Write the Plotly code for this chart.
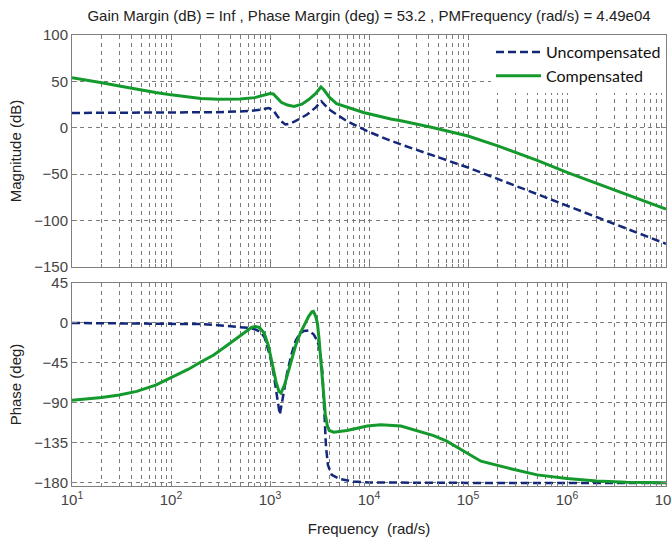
import plotly.graph_objects as go

# ---- Bode data (frequency in rad/s) ----
freq_unc_mag = [10, 30, 100, 300, 600, 800, 970, 1080, 1180, 1300, 1430, 1600, 1800, 2370, 2900,
                3300, 3550, 3970, 6000, 9600, 15300, 21000, 1e5, 1e6, 1e7]
mag_unc = [16, 16, 16.2, 16.8, 18, 19.5, 21.4, 19, 13, 7, 3.6, 4.5, 7.1, 14.3, 22,
           28.6, 25, 19.6, 7.1, -3.6, -12.5, -17.9, -42.8, -84, -125]

freq_comp_mag = [10, 15, 20, 30, 45, 70, 100, 150, 200, 300, 500, 700, 850, 1000, 1080, 1180,
                 1300, 1500, 1750, 2100, 2460, 2900, 3270, 3500, 3970, 4700, 6000, 8800, 16600,
                 21000, 44900, 1e5, 2e5, 5e5, 1e6, 2e6, 5e6, 1e7]
mag_comp = [54, 51, 48.5, 45, 41.5, 38, 35.5, 33, 31.5, 30.8, 31, 32.5, 34.5, 37, 36.5, 32,
            27.5, 24.5, 23, 25.5, 30.4, 37, 44, 41, 33, 26, 22, 16.5, 9.5,
            7.5, 0, -8.9, -19.5, -35, -48, -60, -76, -87.5]

freq_unc_ph = [10, 100, 200, 300, 450, 600, 700, 800, 880, 950, 1000, 1080, 1150, 1210, 1255,
               1310, 1400, 1490, 1650, 1815, 2000, 2200, 2450, 2770, 3000, 3120, 3250, 3380,
               3490, 3580, 3680, 3850, 4200, 5000, 7000, 1e4, 1e5, 1e7]
phase_unc = [0, -0.5, -1.3, -2.5, -4, -5.5, -7, -10, -16, -27, -37, -55, -75, -95, -103,
             -92, -72, -56, -35, -20, -12, -9, -8.5, -13, -20, -26, -38, -55,
             -86, -115, -140, -160, -171, -175.5, -178.5, -179.5, -180, -180]

freq_comp_ph = [10, 20, 30, 45, 70, 100, 150, 200, 270, 370, 540, 650, 710, 780, 870, 960,
                1050, 1150, 1230, 1290, 1400, 1620, 1820, 2030, 2250, 2460, 2650, 2740, 2880,
                3010, 3130, 3240, 3370, 3490, 3620, 3800, 3970, 4400, 6000, 9600, 13100,
                21000, 28000, 44900, 61000, 98000, 135000, 270000, 5e5, 1e6, 2e6, 4e6, 1e7]
phase_comp = [-87, -84, -81, -77, -70, -62, -52, -44, -36, -25, -11, -5, -4, -5, -11, -25,
              -45, -66, -77, -79, -70, -45, -25, -11, 0, 7.5, 12.5, 13, 8,
              0, -18, -37.5, -62, -86, -103, -116, -121, -123, -121, -116, -114.5,
              -116, -120, -126.8, -133, -146, -155.6, -164, -171, -175, -178, -179.3, -179.8]

series_names = ["Uncompensated", "Compensated"]

x_tickvals = [1e1, 1e2, 1e3, 1e4, 1e5, 1e6, 1e7]
x_ticktext = ["10<sup>1</sup>", "10<sup>2</sup>", "10<sup>3</sup>", "10<sup>4</sup>",
              "10<sup>5</sup>", "10<sup>6</sup>", "10<sup>7</sup>"]
mag_ticks = [-150, -100, -50, 0, 50, 100]
phase_ticks = [-180, -135, -90, -45, 0, 45]

title_text = ("Gain Margin (dB) = Inf , Phase Margin (deg) = 53.2 , "
              "PMFrequency (rad/s) = 4.49e04")

# ---- styling ----
W, H = 672, 542
FONT = "Liberation Sans, Arial, sans-serif"
UNC_COLOR = "#14287a"
COMP_COLOR = "#149a2c"
GRID = "#7a7a7a"
FRAME = "#7f7f7f"
TEXT = "#222222"
TICKFONT = dict(family=FONT, size=15, color="#444444")

fig = go.Figure()

fig.add_trace(go.Scatter(x=freq_unc_mag, y=mag_unc, mode="lines", name=series_names[0],
                         line=dict(color=UNC_COLOR, width=2.5, dash="8px,4px"),
                         xaxis="x", yaxis="y", legendgroup="u"))
fig.add_trace(go.Scatter(x=freq_comp_mag, y=mag_comp, mode="lines", name=series_names[1],
                         line=dict(color=COMP_COLOR, width=3),
                         xaxis="x", yaxis="y", legendgroup="c"))
fig.add_trace(go.Scatter(x=freq_unc_ph, y=phase_unc, mode="lines", showlegend=False,
                         line=dict(color=UNC_COLOR, width=2.5, dash="8px,4px"),
                         xaxis="x2", yaxis="y2"))
fig.add_trace(go.Scatter(x=freq_comp_ph, y=phase_comp, mode="lines", showlegend=False,
                         line=dict(color=COMP_COLOR, width=3),
                         xaxis="x2", yaxis="y2"))

# plot-area geometry in pixels
L, R, T, B = 72, 6, 35, 56
ph = H - T - B
top_lo = (H - B - 267) / ph
bot_hi = (H - B - 283) / ph

common_x = dict(
    type="log", range=[1, 7], tickvals=x_tickvals, ticktext=x_ticktext,
    ticklabeloverflow="allow", automargin=False,
    showgrid=True, gridcolor=GRID, griddash="4px,4px", gridwidth=1,
    minor=dict(dtick="D1", showgrid=True, gridcolor=GRID, griddash="4px,4px",
               gridwidth=1, ticks="inside", ticklen=3, tickcolor=FRAME),
    showline=True, linecolor=FRAME, linewidth=1, mirror="ticks",
    ticks="inside", ticklen=5, tickcolor=FRAME, zeroline=False,
    tickfont=TICKFONT,
)
common_y = dict(
    showgrid=True, gridcolor=GRID, griddash="4px,4px", gridwidth=1,
    showline=True, linecolor=FRAME, linewidth=1, mirror="ticks",
    ticks="inside", ticklen=5, tickcolor=FRAME, zeroline=False,
    automargin=False, tickfont=TICKFONT,
)

fig.update_layout(
    width=W, height=H,
    margin=dict(l=L, r=R, t=T, b=B, autoexpand=False),
    paper_bgcolor="white", plot_bgcolor="white",
    font=dict(family=FONT, color=TEXT),
    title=dict(text=title_text, x=0.5, xref="paper", xanchor="center",
               y=1 - 16 / H, yref="container", yanchor="middle",
               font=dict(family=FONT, size=15, color=TEXT)),
    xaxis=dict(common_x, domain=[0, 1], anchor="y", showticklabels=False, matches="x2"),
    xaxis2=dict(common_x, domain=[0, 1], anchor="y2",
                title=dict(text="Frequency  (rad/s)", standoff=16,
                           font=dict(family=FONT, size=15, color=TEXT))),
    yaxis=dict(common_y, domain=[top_lo, 1], anchor="x", range=[-150, 100],
               tickvals=mag_ticks,
               title=dict(text="Magnitude (dB)", standoff=8,
                          font=dict(family=FONT, size=15, color=TEXT))),
    yaxis2=dict(common_y, domain=[0, bot_hi], anchor="x2", range=[-183.5, 45],
                tickvals=phase_ticks,
                title=dict(text="Phase (deg)", standoff=8,
                           font=dict(family=FONT, size=15, color=TEXT))),
    legend=dict(x=1, y=1, xref="paper", yref="paper", xanchor="right", yanchor="top",
                bgcolor="white", borderwidth=0, itemwidth=45, tracegroupgap=0,
                font=dict(family="Lato, sans-serif", size=16, color="#111111")),
    showlegend=True,
)

fig.write_html("out.html")
